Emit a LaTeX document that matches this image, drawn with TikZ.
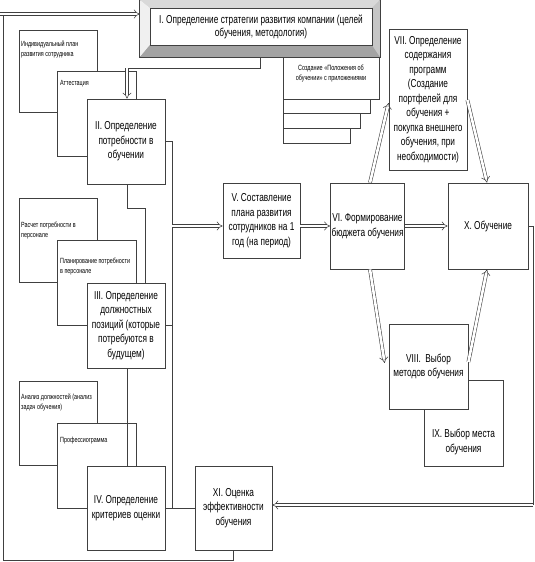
\documentclass[tikz,border=0pt]{standalone}
\usepackage{fontspec}
\setmainfont{Liberation Sans}[FakeStretch=0.72]
\usetikzlibrary{arrows.meta,calc}
\definecolor{ln}{HTML}{404040}
\begin{document}
\begin{tikzpicture}[x=1pt,y=-1pt,
 box/.style={draw=ln, line width=0.8pt, fill=white, inner sep=1pt, align=center, font=\fontsize{11.5}{14.5}\selectfont},
 sbox/.style={draw=ln, line width=0.8pt, fill=white},
 stxt/.style={anchor=north west, align=left, inner sep=0pt, font=\fontsize{7.5}{10}\selectfont},
 btxt/.style={align=center, inner sep=0pt, font=\fontsize{11.5}{14.5}\selectfont},
 conn/.style={draw=ln, line width=0.8pt},
 dbl/.style={draw=ln, line width=0.55pt, double=white, double distance=2.6pt, -{Implies}},
]
\useasboundingbox (0,0) rectangle (535,562);

% left column, group 1
\node[sbox, minimum width=78pt, minimum height=82pt] (ipr) at (58,71) {};
\node[stxt] (iprt) at (21,41) {Индивидуальный план\\развития сотрудника};
\node[sbox, minimum width=79pt, minimum height=85pt] (att) at (96.5,113.5) {};
\node[stxt] (attt) at (60,80) {Аттестация};
\node[box, minimum width=78pt, minimum height=85pt] (II) at (126,141.5) {II. Определение\\потребности в\\обучении};

% group 2
\node[sbox, minimum width=78pt, minimum height=84pt] (ras) at (58,240) {};
\node[stxt] (rast) at (21,222) {Расчет потребности в\\персонале};
\node[sbox, minimum width=79pt, minimum height=85pt] (pln) at (96.5,282.5) {};
\node[stxt] (plnt) at (60,258) {Планирование потребности\\в персонале};
\node[box, minimum width=78pt, minimum height=85pt] (III) at (126,325.5) {III. Определение\\должностных\\позиций (которые\\потребуются в\\будущем)};

% group 3
\node[sbox, minimum width=78pt, minimum height=84pt] (anl) at (58,423) {};
\node[stxt] (anlt) at (21,394) {Анализ должностей (анализ\\задач обучения)};
\node[sbox, minimum width=79pt, minimum height=85pt] (prf) at (96.5,465.5) {};
\node[stxt] (prft) at (60,437) {Профессиограмма};
\node[box, minimum width=78pt, minimum height=84pt] (IV) at (126,508) {IV. Определение\\критериев оценки};
\node[box, minimum width=77pt, minimum height=84pt] (XI) at (233.5,508) {XI. Оценка\\эффективности\\обучения};

% middle row
\node[box, minimum width=77pt, minimum height=75pt] (V) at (261.5,220.5) {V. Составление\\плана развития\\сотрудников на 1\\год (на период)};
\node[box, minimum width=73pt, minimum height=86pt] (VI) at (367.5,226) {VI. Формирование\\бюджета обучения};
\node[box, minimum width=80pt, minimum height=86pt] (X) at (488,226) {X. Обучение};
\node[box, minimum width=78pt, minimum height=141pt] (VII) at (428,99.5) {VII. Определение\\содержания\\программ\\(Создание\\портфелей для\\обучения +\\покупка внешнего\\обучения, при\\необходимости)};
\node[box, minimum width=79pt, minimum height=86pt] (IX) at (463.5,423) {};
\node[btxt] (IXt) at (463.5,442) {IX. Выбор места\\обучения};
\node[box, minimum width=79pt, minimum height=85pt] (VIII) at (428.5,366.5) {VIII.~~Выбор\\методов обучения};

% stack under box I
\node[sbox, minimum width=67pt, minimum height=93pt] (pl3) at (316.5,96.5) {};
\node[sbox, minimum width=77pt, minimum height=78pt] (pl2) at (321.5,89) {};
\node[sbox, minimum width=87pt, minimum height=63pt] (pl1) at (326.5,81.5) {};
\node[sbox, minimum width=96pt, minimum height=49pt] (pl) at (331,74.5) {};
\node[align=center, inner sep=0pt, font=\fontsize{7.6}{10}\selectfont] (plt) at (331,74) {Создание «Положения об\\обучении» с приложениями};

% box I (bevelled)
\node[draw=ln, line width=0.6pt, fill=gray!55, minimum width=240pt, minimum height=57pt] (Iout) at (260,28.5) {};
\fill[gray!30] (Iout.north west) -- (Iout.north east) -- (372,8) -- (150,8) -- cycle;
\fill[gray!12] (Iout.north west) -- (150,8) -- (150,45) -- (Iout.south west) -- cycle;
\fill[gray!72] (Iout.south west) -- (150,45) -- (372,45) -- (Iout.south east) -- cycle;
\fill[gray!45] (Iout.north east) -- (372,8) -- (372,45) -- (Iout.south east) -- cycle;
\draw[ln, line width=0.6pt] (Iout.north west) rectangle (Iout.south east);
\node[draw=ln, line width=0.6pt, fill=white, minimum width=222pt, minimum height=37pt, align=center, font=\fontsize{11.5}{13}\selectfont] (I) at (261,26.5) {I. Определение стратегии развития компании (целей\\обучения, методология)};

% connectors
\coordinate (tr) at (172,508);
\draw[conn] (II.east) -| (tr);
\draw[conn] (III.east) -- (III.east -| tr);
\draw[conn] (IV.east) -- (XI.west);
\coordinate (a5) at (172,226);
\draw[dbl] (a5) -- (a5 -| V.west);
\draw[dbl] (V.east |- a5) -- (VI.west |- a5);
\draw[dbl] (VI.east |- a5) -- (X.west |- a5);
\draw[dbl] ($(VI.north)+(2.5,0)$) -- ($(VII.west)+(0,3.5)$);
\draw[dbl] ($(VII.east)+(0,0.5)$) -- ($(X.north)+(-1,0)$);
\draw[dbl] ($(VI.south)+(2.5,0)$) -- ($(VIII.west)+(-4,-3.5)$);
\draw[dbl] ($(VIII.east)+(0,-4.5)$) -- ($(X.south)+(-1,0)$);
\coordinate (xr) at (533,505);
\draw[conn] (X.east) -| (xr);
\draw[dbl] (xr) -- (xr -| XI.east);
\coordinate (lp) at (3,14);
\draw[conn] (XI.south) -- ++(0,10) -| (lp);
\coordinate (l0) at (0,14);
\draw[dbl] (l0) -- (l0 -| Iout.west);
\coordinate (ib2) at (127,68);
\draw[conn] (Iout.south) |- (ib2);
\draw[dbl] (ib2) -- (ib2 |- II.north);
\draw[conn] ($(II.south)+(1,0)$) -- ++(0,24) -| ($(III.north)+(19,0)$);
\draw[conn] ($(III.south)+(1,0)$) -- ($(IV.north)+(1,0)$);
\end{tikzpicture}
\end{document}
